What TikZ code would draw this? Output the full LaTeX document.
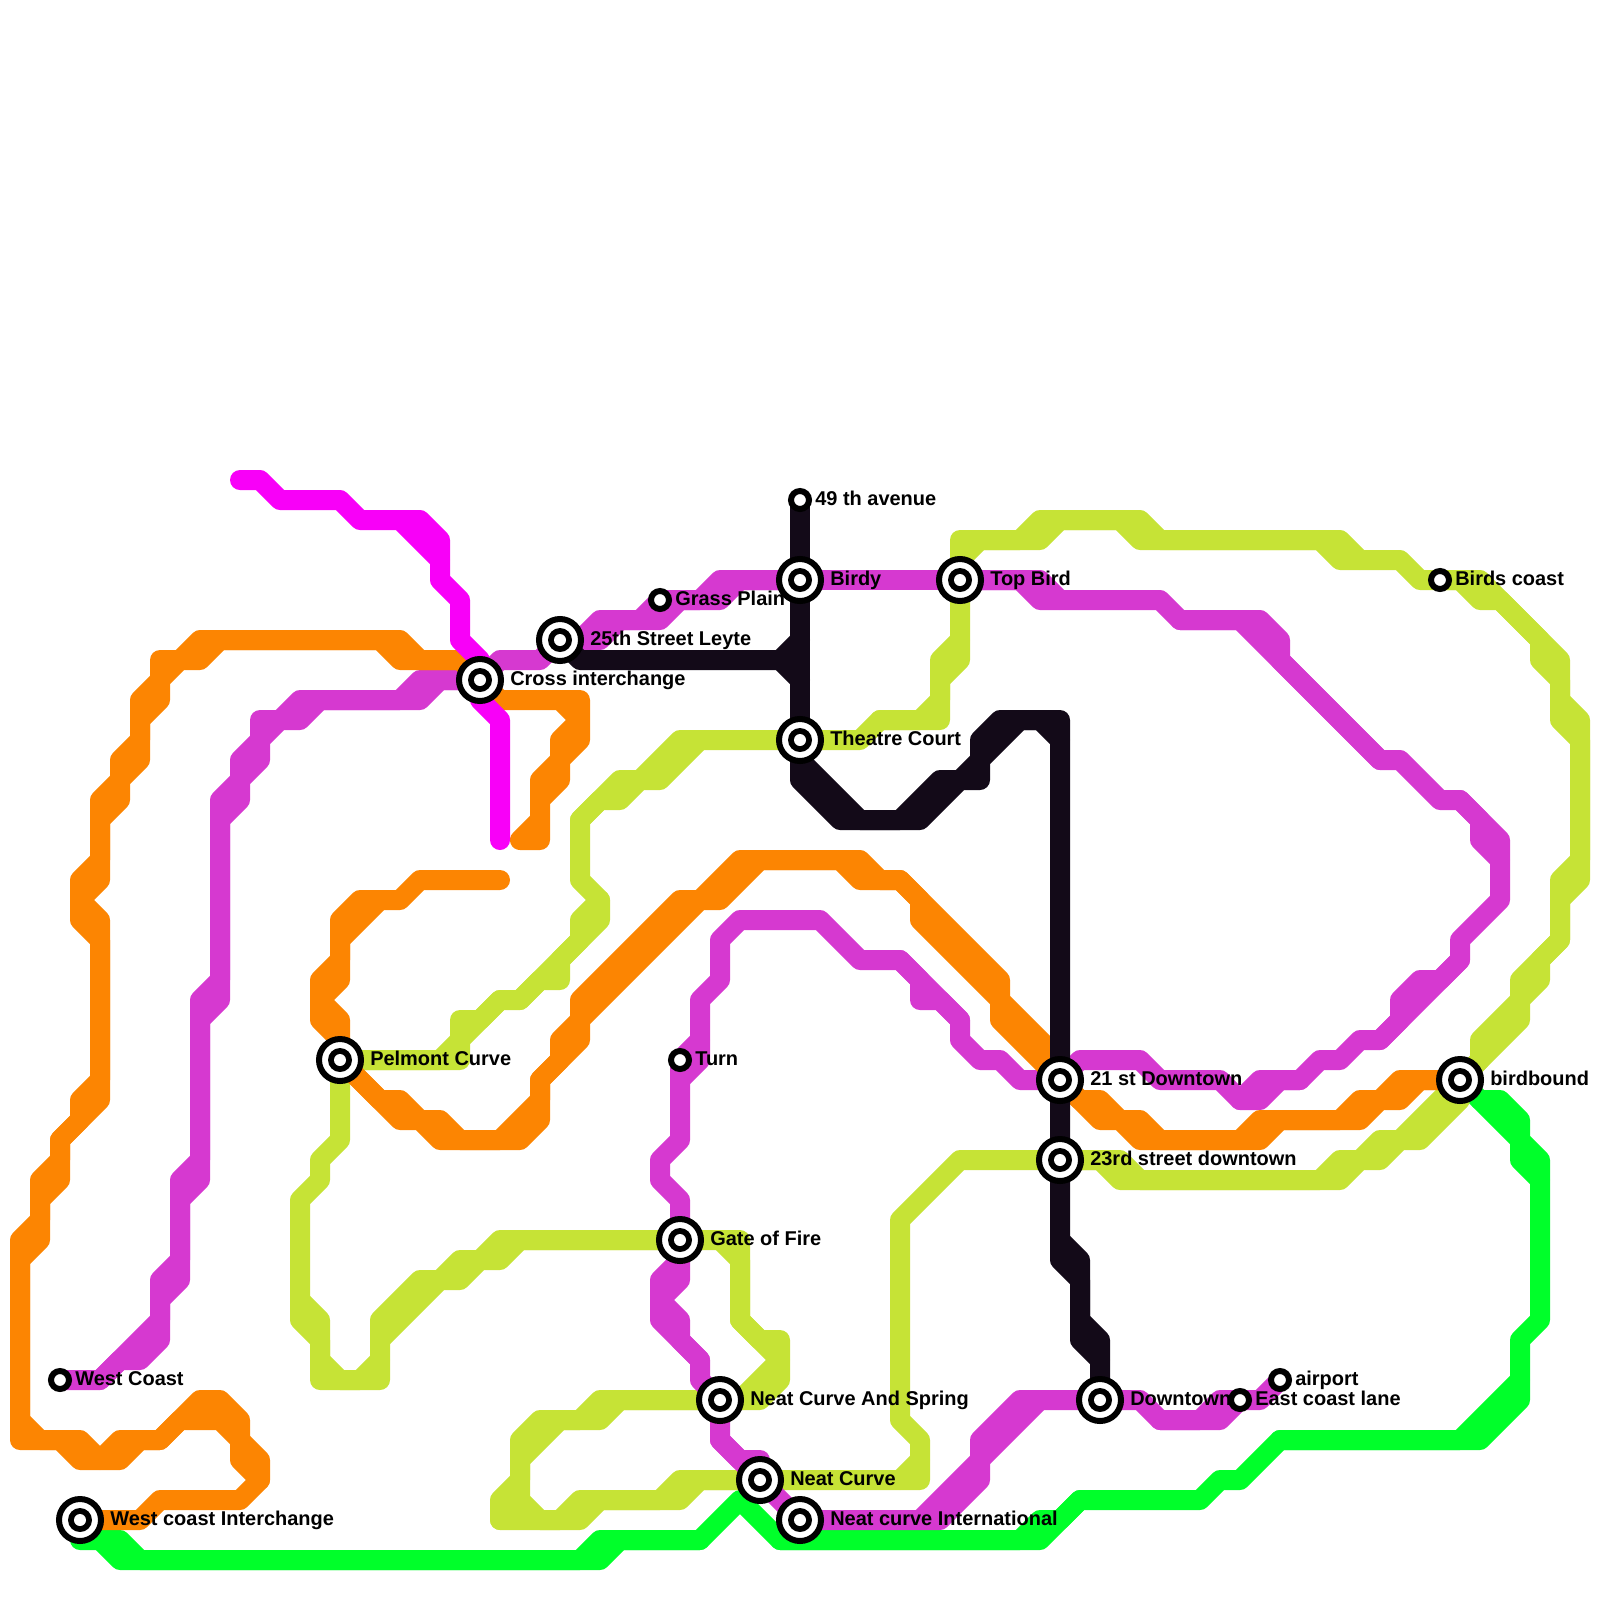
\documentclass[tikz,border=0pt]{standalone}
\usepackage{fontspec}
\setmainfont{Liberation Sans}
\usetikzlibrary{backgrounds}
\definecolor{greenline}{RGB}{0,255,42}
\definecolor{limeline}{RGB}{198,227,54}
\definecolor{purpleline}{RGB}{214,57,208}
\definecolor{orangeline}{RGB}{252,133,2}
\definecolor{magentaline}{RGB}{248,0,248}
\definecolor{blackline}{RGB}{19,10,24}
\tikzset{
    route/.style = {line width=0.5cm, line cap=round, line join=round},
    bigstop/.style = {
        circle, draw=black, fill=white, inner sep=0pt,
        minimum size=1.05cm, line width=0.15cm,
        path picture = {
            \fill[black] (path picture bounding box.center) circle (0.3cm);
            \fill[white] (path picture bounding box.center) circle (0.15cm);
        }
    },
    smallstop/.style = {
        circle, draw=black, fill=white, inner sep=0pt,
        minimum size=0.45cm, line width=0.15cm
    },
    stoptext/.style = {
        anchor=base west, inner sep=0pt, text=black,
        font=\fontsize{14.2}{16}\selectfont\bfseries
    },
    bigtext/.style = {stoptext, xshift=0.75cm, yshift=-0.125cm},
    smalltext/.style = {stoptext, xshift=0.375cm, yshift=-0.125cm}
}
\begin{document}
\begin{tikzpicture}[x=0.5cm, y=-0.5cm]
    \useasboundingbox (0,0) rectangle (80,80);

    \node[smallstop] (westcoast) at (3,69) {};
    \node[bigstop] (interchange) at (4,76) {};
    \node[bigstop] (pelmont) at (17,53) {};
    \node[bigstop] (cross) at (24,34) {};
    \node[bigstop] (leyte) at (28,32) {};
    \node[smallstop] (grass) at (33,30) {};
    \node[smallstop] (avenue) at (40,25) {};
    \node[bigstop] (birdy) at (40,29) {};
    \node[bigstop] (topbird) at (48,29) {};
    \node[bigstop] (theatre) at (40,37) {};
    \node[smallstop] (turn) at (34,53) {};
    \node[bigstop] (gate) at (34,62) {};
    \node[bigstop] (spring) at (36,70) {};
    \node[bigstop] (neat) at (38,74) {};
    \node[bigstop] (neatintl) at (40,76) {};
    \node[bigstop] (first) at (53,54) {};
    \node[bigstop] (third) at (53,58) {};
    \node[bigstop] (downtown) at (55,70) {};
    \node[smallstop] (eastcoast) at (62,70) {};
    \node[smallstop] (airport) at (64,69) {};
    \node[bigstop] (birdbound) at (73,54) {};
    \node[smallstop] (birdscoast) at (72,29) {};
    \coordinate (magentastart) at (12,24);
    \coordinate (magentaend) at (25,42);
    \coordinate (orangestart) at (25,44);

    \begin{scope}[on background layer]
        \draw[route, greenline] (interchange.center) -- (4,77) -- (6,77) -- (7,78) -- (29,78) -- (30,77) -- (35,77) -- (37,75) -- (39,77) -- (52,77) -- (54,75) -- (60,75) -- (61,74) -- (62,74) -- (64,72) -- (74,72) -- (76,70) -- (76,67) -- (77,66) -- (77,58) -- (76,57) -- (76,56) -- (75,55) -- (74,55) -- (birdbound.center);
        \draw[route, greenline] (5,77) -- (6,78) -- (30,78) -- (31,77) -- (35,77);
        \draw[route, greenline] (39,77) -- (51,77) -- (52,76) -- (53,76) -- (54,75);
        \draw[route, greenline] (64,72) -- (73,72) -- (76,69);
        \draw[route, greenline] (77,59) -- (76,58) -- (76,57) -- (74,55);

        \draw[route, limeline] (gate.center) -- (25,62) -- (24,63) -- (23,63) -- (22,64) -- (21,64) -- (19,66) -- (19,69) -- (16,69) -- (16,67) -- (15,66) -- (15,60) -- (16,59) -- (16,58) -- (17,57) -- (pelmont.center);
        \draw[route, limeline] (gate.center) -- (26,62) -- (25,63) -- (24,63) -- (23,64) -- (22,64) -- (19,67);
        \draw[route, limeline] (15,65) -- (16,66) -- (16,68) -- (17,69) -- (18,69) -- (19,68);
        \draw[route, limeline] (pelmont.center) -- (22,53) -- (23,52) -- (23,51) -- (24,51) -- (25,50) -- (26,50) -- (29,47) -- (29,46) -- (30,45) -- (29,44) -- (29,41) -- (31,39) -- (32,39) -- (34,37) -- (theatre.center);
        \draw[route, limeline] (pelmont.center) -- (23,53) -- (23,52) -- (25,50);
        \draw[route, limeline] (26,50) -- (27,49) -- (28,49) -- (28,48) -- (30,46) -- (30,45);
        \draw[route, limeline] (29,41) -- (30,40) -- (31,40) -- (32,39) -- (33,39) -- (35,37);
        \draw[route, limeline] (theatre.center) -- (43,37) -- (44,36) -- (47,36) -- (47,34) -- (48,33) -- (topbird.center);
        \draw[route, limeline] (44,36) -- (46,36) -- (47,35) -- (47,33) -- (48,32);
        \draw[route, limeline] (topbird.center) -- (48,27) -- (51,27) -- (52,26) -- (57,26) -- (58,27) -- (67,27) -- (68,28) -- (70,28) -- (71,29) -- (birdscoast.center);
        \draw[route, limeline] (48,28) -- (49,27) -- (52,27) -- (53,26) -- (56,26) -- (57,27) -- (66,27) -- (67,28) -- (68,28);
        \draw[route, limeline] (birdscoast.center) -- (74,29) -- (78,33) -- (78,35) -- (79,36) -- (79,44) -- (78,45) -- (78,47) -- (77,48) -- (77,49) -- (76,50) -- (76,51) -- (birdbound.center);
        \draw[route, limeline] (birdscoast.center) -- (73,29) -- (74,30) -- (75,30) -- (77,32) -- (77,33) -- (78,34) -- (78,36) -- (79,37) -- (79,43) -- (78,44) -- (78,47) -- (76,49) -- (76,50) -- (74,52) -- (74,53) -- (birdbound.center);
        \draw[route, limeline] (third.center) -- (56,58) -- (57,59) -- (66,59) -- (67,58) -- (68,58) -- (69,57) -- (70,57) -- (72,55) -- (birdbound.center);
        \draw[route, limeline] (third.center) -- (55,58) -- (56,59) -- (67,59) -- (68,58) -- (69,58) -- (70,57) -- (71,57) -- (73,55) -- (birdbound.center);
        \draw[route, limeline] (gate.center) -- (37,62) -- (37,66) -- (38,67) -- (39,67) -- (39,69) -- (38,70) -- (spring.center);
        \draw[route, limeline] (36,62) -- (37,63) -- (37,66) -- (39,68) -- (37,70);
        \draw[route, limeline] (spring.center) -- (30,70) -- (29,71) -- (27,71) -- (26,72) -- (26,74) -- (25,75) -- (25,76) -- (29,76) -- (30,75) -- (34,75) -- (35,74) -- (neat.center);
        \draw[route, limeline] (spring.center) -- (31,70) -- (30,71) -- (28,71) -- (26,73) -- (26,75) -- (27,76) -- (28,76) -- (29,75) -- (33,75) -- (34,74) -- (neat.center);
        \draw[route, limeline] (25,76) -- (26,75);
        \draw[route, limeline] (neat.center) -- (46,74) -- (46,72) -- (45,71) -- (45,61) -- (48,58) -- (third.center);
        \draw[route, limeline] (45,74) -- (46,73);

        \draw[route, purpleline] (westcoast.center) -- (5,69) -- (6,68) -- (7,68) -- (8,67) -- (8,65) -- (9,64) -- (9,60) -- (10,59) -- (10,51) -- (11,50) -- (11,41) -- (12,40) -- (12,39) -- (13,38) -- (13,37) -- (14,36) -- (15,36) -- (16,35) -- (21,35) -- (22,34) -- (cross.center);
        \draw[route, purpleline] (5,69) -- (8,66) -- (8,64) -- (9,63) -- (9,59) -- (10,58) -- (10,50) -- (11,49) -- (11,40) -- (12,39) -- (12,38) -- (13,37) -- (13,36) -- (14,36) -- (15,35) -- (20,35) -- (21,34) -- (cross.center);
        \draw[route, purpleline] (cross.center) -- (25,33) -- (27,33) -- (leyte.center);
        \draw[route, purpleline] (leyte.center) -- (30,32) -- (31,31) -- (33,31) -- (34,30) -- (36,30) -- (37,29) -- (birdy.center);
        \draw[route, purpleline] (leyte.center) -- (29,32) -- (30,31) -- (32,31) -- (grass.center) -- (35,30) -- (36,29) -- (birdy.center);
        \draw[route, purpleline] (birdy.center) -- (topbird.center);
        \draw[route, purpleline] (topbird.center) -- (52,29) -- (53,30) -- (58,30) -- (59,31) -- (63,31) -- (64,32) -- (64,33) -- (69,38) -- (70,38) -- (72,40) -- (73,40) -- (75,42) -- (75,45) -- (73,47) -- (73,48) -- (69,52) -- (68,52) -- (67,53) -- (66,53) -- (65,54) -- (64,54) -- (63,55) -- (62,55) -- (61,54) -- (58,54) -- (57,53) -- (54,53) -- (first.center);
        \draw[route, purpleline] (topbird.center) -- (51,29) -- (52,30) -- (53,30);
        \draw[route, purpleline] (59,31) -- (62,31) -- (69,38);
        \draw[route, purpleline] (73,40) -- (74,41) -- (74,42) -- (75,43);
        \draw[route, purpleline] (73,48) -- (72,49) -- (71,49) -- (70,50) -- (70,51) -- (69,52);
        \draw[route, purpleline] (62,55) -- (63,54) -- (65,54);
        \draw[route, purpleline] (first.center) -- (51,54) -- (50,53) -- (49,53) -- (48,52) -- (48,51) -- (47,50) -- (46,50) -- (46,49) -- (45,48) -- (43,48) -- (41,46) -- (37,46) -- (36,47) -- (36,49) -- (35,50) -- (35,52) -- (turn.center) -- (34,57) -- (33,58) -- (33,59) -- (34,60) -- (gate.center);
        \draw[route, purpleline] (48,51) -- (45,48);
        \draw[route, purpleline] (35,52) -- (35,53) -- (34,54);
        \draw[route, purpleline] (gate.center) -- (34,63) -- (33,64) -- (33,66) -- (35,68) -- (35,69) -- (spring.center);
        \draw[route, purpleline] (gate.center) -- (34,64) -- (33,65) -- (34,66) -- (34,67) -- (35,68);
        \draw[route, purpleline] (spring.center) -- (36,72) -- (neat.center);
        \draw[route, purpleline] (36,72) -- (37,73) -- (38,73) -- (neat.center);
        \draw[route, purpleline] (neat.center) -- (neatintl.center);
        \draw[route, purpleline] (neatintl.center) -- (47,76) -- (49,74) -- (49,72) -- (51,70) -- (downtown.center);
        \draw[route, purpleline] (46,76) -- (49,73) -- (52,70);
        \draw[route, purpleline] (downtown.center) -- (57,70) -- (58,71) -- (60,71) -- (61,70) -- (eastcoast.center);
        \draw[route, purpleline] (58,71) -- (61,71) -- (eastcoast.center);
        \draw[route, purpleline] (eastcoast.center) -- (63,70) -- (airport.center);

        \draw[route, orangeline] (interchange.center) -- (7,76) -- (8,75) -- (12,75) -- (13,74) -- (12,73) -- (12,71) -- (11,70) -- (10,70) -- (8,72) -- (6,72) -- (5,73) -- (4,72) -- (2,72) -- (1,71) -- (1,62) -- (2,61) -- (2,59) -- (3,58) -- (3,57) -- (4,56) -- (4,55) -- (5,54) -- (5,47) -- (4,46) -- (4,44) -- (5,43) -- (5,40) -- (6,39) -- (6,38) -- (7,37) -- (7,35) -- (8,34) -- (8,33) -- (9,33) -- (10,32) -- (19,32) -- (20,33) -- (23,33) -- (cross.center);
        \draw[route, orangeline] (13,74) -- (13,73) -- (11,71) -- (9,71) -- (8,72) -- (7,72) -- (6,73) -- (4,73) -- (3,72) -- (1,72) -- (1,63) -- (2,62) -- (2,60) -- (3,59) -- (3,57) -- (5,55) -- (5,46) -- (4,45) -- (5,44) -- (5,41) -- (6,40) -- (6,39) -- (7,38) -- (7,36) -- (8,35) -- (8,34) -- (9,33) -- (10,33) -- (11,32) -- (20,32) -- (21,33) -- (23,33);
        \draw[route, orangeline] (cross.center) -- (25,35) -- (29,35) -- (29,37) -- (28,38) -- (27,39) -- (27,41) -- (26,42) -- (27,42) -- (27,40) -- (28,39) -- (28,37) -- (29,36) -- (28,35);
        \draw[route, orangeline] (orangestart) -- (21,44) -- (20,45) -- (18,45) -- (17,46) -- (17,48) -- (16,49) -- (16,51) -- (17,52) -- (pelmont.center);
        \draw[route, orangeline] (19,45) -- (17,47) -- (17,49) -- (16,50) -- (17,51) -- (pelmont.center);
        \draw[route, orangeline] (pelmont.center) -- (19,55) -- (20,55) -- (21,56) -- (22,56) -- (23,57) -- (25,57) -- (27,55) -- (27,54) -- (28,53) -- (28,52) -- (29,51) -- (29,50) -- (34,45) -- (35,45) -- (37,43) -- (43,43) -- (44,44) -- (45,44) -- (50,49) -- (50,50) -- (53,53) -- (first.center);
        \draw[route, orangeline] (pelmont.center) -- (20,56) -- (21,56) -- (22,57) -- (26,57) -- (27,56) -- (27,54) -- (29,52) -- (29,51) -- (35,45) -- (36,45) -- (38,43) -- (42,43) -- (43,44) -- (45,44) -- (46,45) -- (46,46) -- (50,50) -- (50,51) -- (52,53) -- (first.center);
        \draw[route, orangeline] (first.center) -- (54,55) -- (55,55) -- (56,56) -- (57,56) -- (58,57) -- (62,57) -- (63,56) -- (67,56) -- (68,55) -- (69,55) -- (70,54) -- (birdbound.center);
        \draw[route, orangeline] (first.center) -- (55,56) -- (56,56) -- (57,57) -- (63,57) -- (64,56) -- (68,56) -- (69,55) -- (70,55) -- (71,54) -- (birdbound.center);

        \draw[route, magentaline] (magentastart) -- (13,24) -- (14,25) -- (17,25) -- (18,26) -- (20,26) -- (22,28) -- (22,29) -- (23,30) -- (23,32) -- (24,33) -- (cross.center) -- (24,35) -- (25,36) -- (magentaend);
        \draw[route, magentaline] (20,26) -- (21,26) -- (22,27) -- (22,28);

        \draw[route, blackline] (avenue.center) -- (birdy.center) -- (theatre.center);
        \draw[route, blackline] (leyte.center) -- (29,33) -- (39,33) -- (40,32);
        \draw[route, blackline] (39,33) -- (40,34);
        \draw[route, blackline] (theatre.center) -- (40,38) -- (43,41) -- (45,41) -- (47,39) -- (48,39) -- (49,38) -- (49,37) -- (50,36) -- (53,36) -- (first.center) -- (third.center) -- (53,63) -- (54,64) -- (54,67) -- (55,68) -- (downtown.center);
        \draw[route, blackline] (40,38) -- (40,39) -- (42,41) -- (46,41) -- (48,39) -- (49,39) -- (49,38) -- (51,36) -- (52,36) -- (53,37);
        \draw[route, blackline] (53,62) -- (54,63) -- (54,66) -- (55,67) -- (55,68);
    \end{scope}

    \node[smalltext] (westcoasttext) at (westcoast.center) {West Coast};
    \node[bigtext] (interchangetext) at (interchange.center) {West coast Interchange};
    \node[bigtext] (pelmonttext) at (pelmont.center) {Pelmont Curve};
    \node[bigtext] (crosstext) at (cross.center) {Cross interchange};
    \node[bigtext] (leytetext) at (leyte.center) {25th Street Leyte};
    \node[smalltext] (grasstext) at (grass.center) {Grass Plain};
    \node[smalltext] (avenuetext) at (avenue.center) {49 th avenue};
    \node[bigtext] (birdytext) at (birdy.center) {Birdy};
    \node[bigtext] (topbirdtext) at (topbird.center) {Top Bird};
    \node[bigtext] (theatretext) at (theatre.center) {Theatre Court};
    \node[smalltext] (turntext) at (turn.center) {Turn};
    \node[bigtext] (gatetext) at (gate.center) {Gate of Fire};
    \node[bigtext] (springtext) at (spring.center) {Neat Curve And Spring};
    \node[bigtext] (neattext) at (neat.center) {Neat Curve};
    \node[bigtext] (neatintltext) at (neatintl.center) {Neat curve International};
    \node[bigtext] (firsttext) at (first.center) {21 st Downtown};
    \node[bigtext] (thirdtext) at (third.center) {23rd street downtown};
    \node[bigtext] (downtowntext) at (downtown.center) {Downtown};
    \node[smalltext] (eastcoasttext) at (eastcoast.center) {East coast lane};
    \node[smalltext] (airporttext) at (airport.center) {airport};
    \node[bigtext] (birdboundtext) at (birdbound.center) {birdbound};
    \node[smalltext] (birdscoasttext) at (birdscoast.center) {Birds coast};
\end{tikzpicture}
\end{document}
